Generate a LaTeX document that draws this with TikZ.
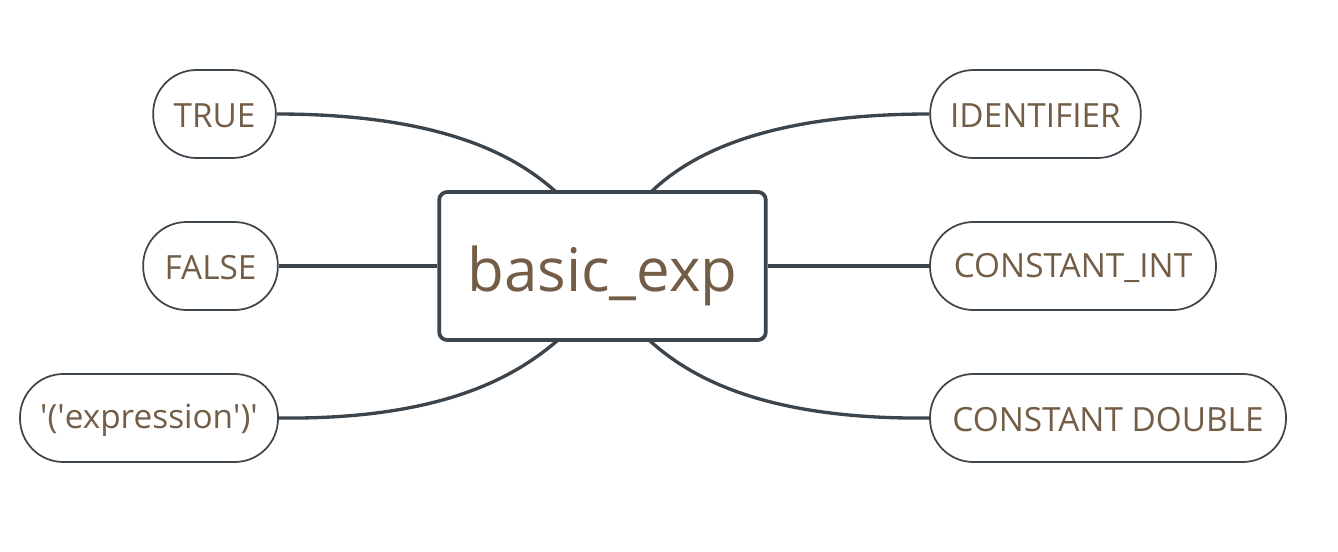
\documentclass[tikz,border=0pt]{standalone}
\usepackage{fontspec}
\setmainfont{Open Sans}
\definecolor{txt}{RGB}{115,93,70}
\definecolor{ln}{RGB}{60,68,76}
\newcommand{\sq}{\textquotesingle}
\newcommand{\lowered}[2]{\raisebox{-#1}[\height][\depth]{#2}}
\begin{document}
\begin{tikzpicture}[x=0.75pt,y=-0.75pt,
  pill/.style={draw=ln,line width=1.3pt,rounded corners=32.5pt,minimum height=66pt,inner sep=0pt,fill=white,text=txt,font=\fontsize{25}{28}\selectfont},
  mainbox/.style={draw=ln,line width=2.8pt,rounded corners=6pt,minimum width=245pt,minimum height=111pt,inner sep=0pt,fill=white,text=txt,font=\fontsize{45}{54}\selectfont},
  conn/.style={draw=ln,line width=2.5pt}]
\useasboundingbox (0,0) rectangle (1338,551);
\node[mainbox] (box) at (602.5,266) {\lowered{7.5pt}{basic\_exp}};
\node[pill,minimum width=92pt] (true) at (214.5,114) {\lowered{1.5pt}{TRUE}};
\node[pill,minimum width=101pt] (false) at (210.5,266) {\lowered{1.5pt}{FALSE}};
\node[pill,minimum width=193.5pt] (expr) at (149,418) {\lowered{1.5pt}{\sq(\sq expression\sq)\sq}};
\node[pill,minimum width=158pt] (ident) at (1035.5,114) {\lowered{1.5pt}{IDENTIFIER}};
\node[pill,minimum width=214.5pt] (cint) at (1073,266) {\lowered{1.5pt}{CONSTANT\_INT}};
\node[pill,minimum width=267pt] (cdbl) at (1108,418) {\lowered{1.5pt}{CONSTANT DOUBLE}};
\coordinate (a1) at (555,191);
\coordinate (a2) at (652,191);
\coordinate (a3) at (557,341);
\coordinate (a4) at (650,341);
\draw[conn] (true.east) .. controls (450,114) and (520,160) .. (a1);
\draw[conn] (ident.west) .. controls (755,114) and (685,160) .. (a2);
\draw[conn] (expr.east) .. controls (450,420) and (520,372) .. (a3);
\draw[conn] (cdbl.west) .. controls (755,420) and (685,372) .. (a4);
\draw[conn] (false.east) -- (box.west);
\draw[conn] (cint.west) -- (box.east);
\end{tikzpicture}
\end{document}
